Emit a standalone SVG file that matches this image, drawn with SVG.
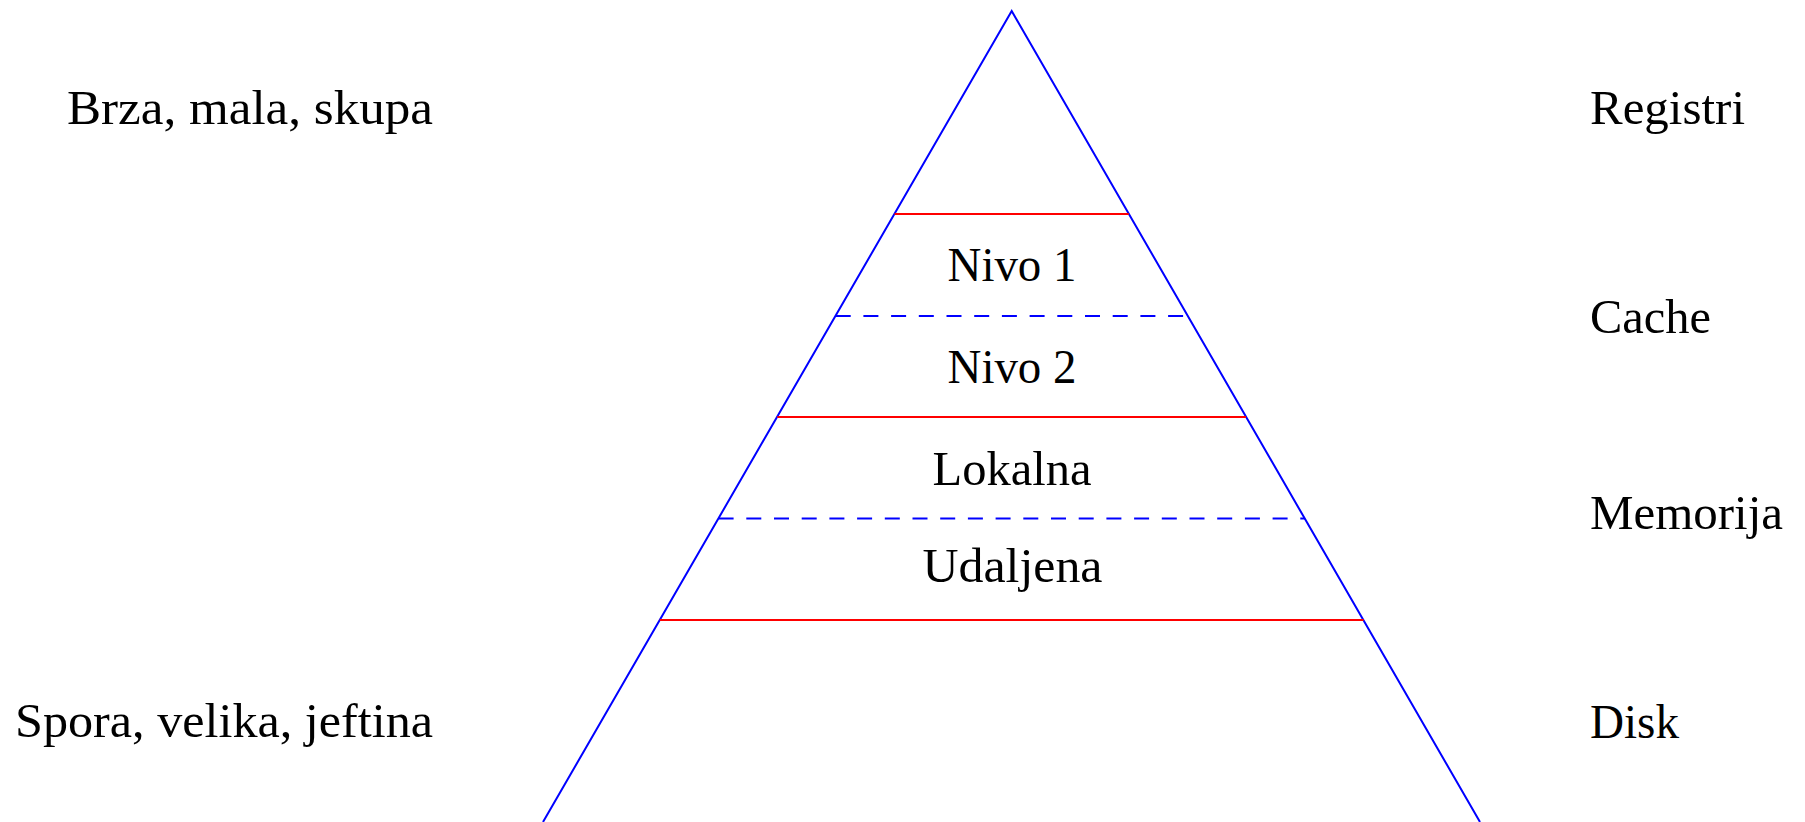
<svg xmlns="http://www.w3.org/2000/svg" width="1805" height="822" viewBox="0 0 1805 822">
<style>
.t{font-family:"Liberation Serif","DejaVu Serif",serif;font-size:48px;fill:#000}
.m{text-anchor:middle}
.e{text-anchor:end}
.side{fill:none;stroke:#0000ff;stroke-width:2}
.red{stroke:#ff0000;stroke-width:2}
.dash{stroke:#0000ff;stroke-width:2;stroke-dasharray:15 12.7}
</style>
<rect width="1805" height="822" fill="#fff"/>
<g id="connectors">
<polyline class="side" points="543,822 1011.7,11 1480,822"/>
<line class="red" x1="894.6" y1="214" x2="1128.8" y2="214"/>
<line class="dash" x1="835.7" y1="316" x2="1187.7" y2="316"/>
<line class="red" x1="777.3" y1="417" x2="1246.1" y2="417"/>
<line class="dash" x1="718.6" y1="518.5" x2="1304.8" y2="518.5"/>
<line class="red" x1="659.8" y1="620" x2="1363.6" y2="620"/>
</g>
<g id="nivo1"><text class="t m" x="1012" y="281" textLength="129" lengthAdjust="spacingAndGlyphs">Nivo 1</text></g>
<g id="nivo2"><text class="t m" x="1012" y="382.5" textLength="129" lengthAdjust="spacingAndGlyphs">Nivo 2</text></g>
<g id="lokalna"><text class="t m" x="1012" y="485" textLength="159" lengthAdjust="spacingAndGlyphs">Lokalna</text></g>
<g id="udaljena"><text class="t m" x="1012.5" y="582" textLength="180" lengthAdjust="spacingAndGlyphs">Udaljena</text></g>
<g id="brza"><text class="t e" x="433" y="124" textLength="366" lengthAdjust="spacingAndGlyphs">Brza, mala, skupa</text></g>
<g id="spora"><text class="t e" x="433" y="737" textLength="418" lengthAdjust="spacingAndGlyphs">Spora, velika, jeftina</text></g>
<g id="registri"><text class="t" x="1590" y="124" textLength="155" lengthAdjust="spacingAndGlyphs">Registri</text></g>
<g id="cache"><text class="t" x="1590" y="333" textLength="121" lengthAdjust="spacingAndGlyphs">Cache</text></g>
<g id="memorija"><text class="t" x="1590" y="529" textLength="193" lengthAdjust="spacingAndGlyphs">Memorija</text></g>
<g id="disk"><text class="t" x="1590" y="738" textLength="89" lengthAdjust="spacingAndGlyphs">Disk</text></g>
</svg>
